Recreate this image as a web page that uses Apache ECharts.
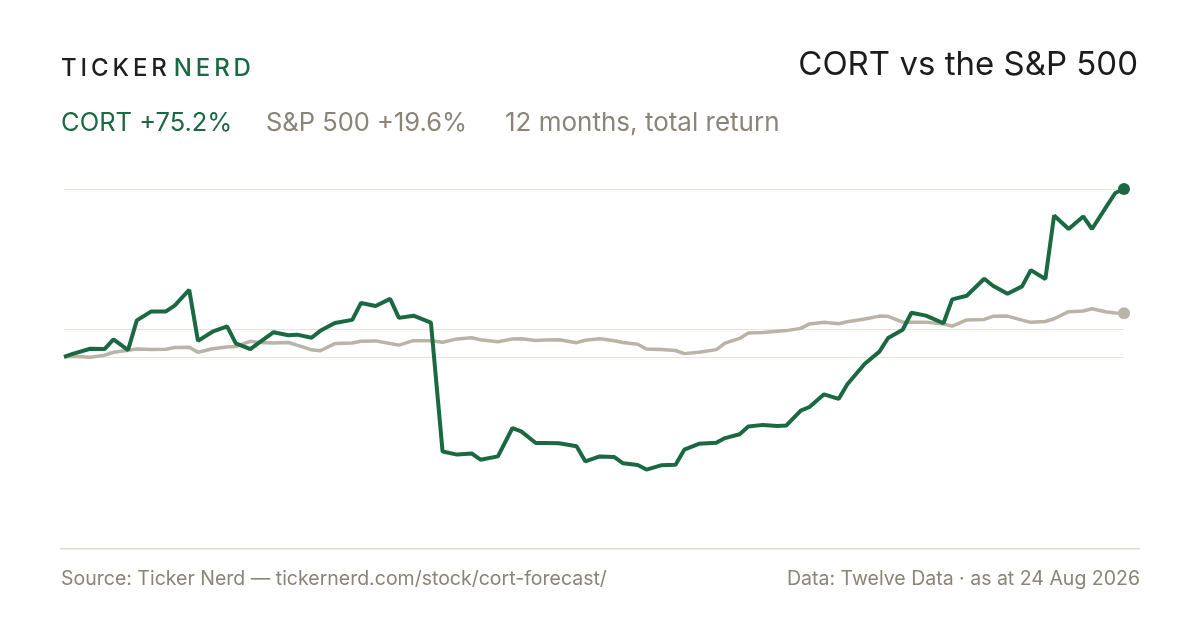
<!DOCTYPE html>
<html>
  <head>
    <meta charset="UTF-8">
    <title>CORT vs the S&amp;P 500</title>
    <script src="https://cdn.jsdelivr.net/npm/echarts@6/dist/echarts.min.js"></script>
    <style>
      html, body { margin: 0; padding: 0; background: #fff; }
    </style>
  </head>
  <body>
    <div id="box" style="width:1200px;height:630px"></div>
    <script>
        // sample dates (every third trading day, last one is the "as at" date)
        var dates = [
            '2025-08-25', '2025-08-28', '2025-09-03', '2025-09-08', '2025-09-11', '2025-09-16', '2025-09-19', '2025-09-24', '2025-09-29', '2025-10-02',
            '2025-10-07', '2025-10-10', '2025-10-15', '2025-10-20', '2025-10-23', '2025-10-28', '2025-10-31', '2025-11-05', '2025-11-10', '2025-11-13',
            '2025-11-18', '2025-11-21', '2025-11-26', '2025-12-02', '2025-12-05', '2025-12-10', '2025-12-15', '2025-12-18', '2025-12-23', '2025-12-29',
            '2026-01-02', '2026-01-07', '2026-01-12', '2026-01-15', '2026-01-21', '2026-01-26', '2026-01-29', '2026-02-03', '2026-02-06', '2026-02-11',
            '2026-02-17', '2026-02-20', '2026-02-25', '2026-03-02', '2026-03-05', '2026-03-10', '2026-03-13', '2026-03-18', '2026-03-23', '2026-03-26',
            '2026-03-31', '2026-04-06', '2026-04-09', '2026-04-14', '2026-04-17', '2026-04-22', '2026-04-27', '2026-04-30', '2026-05-05', '2026-05-08',
            '2026-05-13', '2026-05-18', '2026-05-21', '2026-05-27', '2026-06-01', '2026-06-04', '2026-06-09', '2026-06-12', '2026-06-17', '2026-06-23',
            '2026-06-26', '2026-07-01', '2026-07-07', '2026-07-10', '2026-07-15', '2026-07-20', '2026-07-23', '2026-07-28', '2026-07-31', '2026-08-05',
            '2026-08-10', '2026-08-13', '2026-08-18', '2026-08-21', '2026-08-24'
        ];
        // total return since start, %
        var cort = [
            0.0, 1.4, 3.7, 3.6, 7.9, 3.1, 16.4, 20.4, 20.4, 23.0,
            30.1, 7.2, 11.3, 13.7, 6.1, 3.5, 6.4, 11.1, 9.7, 10.0,
            8.6, 11.7, 15.2, 16.6, 24.2, 22.8, 26.0, 17.5, 18.5, 15.4,
            -42.3, -43.7, -43.2, -46.0, -44.5, -31.8, -33.3, -38.5, -38.5, -38.6,
            -40.0, -46.7, -44.5, -44.8, -47.6, -48.4, -50.4, -48.5, -48.2, -41.5,
            -38.9, -38.4, -36.3, -34.6, -31.1, -30.4, -30.9, -30.7, -24.0, -22.4,
            -16.7, -18.8, -12.2, -3.0, 2.4, 8.5, 12.2, 19.8, 18.5, 15.1,
            25.8, 27.4, 35.0, 31.9, 28.3, 31.6, 38.9, 34.9, 63.3, 57.3,
            62.9, 57.3, 67.4, 73.4, 75.2
        ];
        var spx = [
            0.0, 0.3, -0.1, 0.8, 2.1, 3.0, 3.6, 3.3, 3.5, 4.2,
            4.4, 2.1, 3.7, 4.5, 4.7, 7.0, 6.5, 6.3, 6.5, 5.3,
            3.2, 2.8, 6.0, 6.3, 7.0, 7.2, 6.0, 5.3, 7.3, 7.3,
            6.6, 8.1, 8.6, 7.7, 6.8, 8.1, 8.2, 7.4, 7.6, 7.7,
            6.4, 7.5, 8.2, 7.3, 6.5, 5.7, 3.6, 3.4, 2.9, 1.5,
            2.1, 3.3, 6.2, 8.3, 10.7, 11.0, 11.5, 11.8, 12.8, 14.8,
            15.5, 14.9, 15.8, 17.0, 18.3, 18.2, 15.6, 15.5, 15.6, 14.8,
            13.8, 16.6, 16.8, 18.2, 18.3, 16.5, 15.5, 15.9, 17.1, 20.3,
            20.6, 21.6, 20.1, 19.7, 19.6
        ];
        var gridLevels = [75.2, 12.4, 0];   // top, middle, zero

        var GREEN = '#1a6943';
        var SAND = '#bab3a8';
        var MUTED = '#8b8478';
        var FONT = 'Inter, "Noto Sans", sans-serif';

        function pairs(vals) {
            return vals.map(function (v, i) { return [dates[i], v]; });
        }
        var last = dates.length - 1;
        function endDot(v, p) { return p.dataIndex === last ? 12 : 0; }

        // logo with letter spacing, one text per letter
        var ctx = document.createElement('canvas').getContext('2d');
        var logoFont = '500 24px ' + FONT;
        ctx.font = logoFont;
        var logo = [];
        var lx = 61;
        [['TICKER', '#1f1f1f'], ['NERD', GREEN]].forEach(function (part, k) {
            if (k) lx += 3;
            part[0].split('').forEach(function (ch) {
                logo.push({
                    type: 'text', left: lx, top: 57,
                    style: {text: ch, font: logoFont, fill: part[1]}
                });
                lx += ctx.measureText(ch).width + 3.9;
            });
        });

        var myChart = echarts.init(document.getElementById('box'));
        myChart.setOption({
            animation: false,
            grid: {left: 64, right: 76, top: 189, height: 302},
            xAxis: {
                type: 'time',
                min: dates[0], max: dates[last],
                show: false
            },
            yAxis: {
                type: 'value', min: -60, max: 75.2,
                show: false, splitLine: {show: false}
            },
            series: [{
                name: 'S&P 500',
                type: 'line',
                data: pairs(spx),
                showSymbol: true, showAllSymbol: true,
                symbol: 'circle', symbolSize: endDot,
                itemStyle: {color: SAND},
                lineStyle: {color: SAND, width: 3.5},
                z: 2,
                markLine: {
                    silent: true, symbol: 'none', label: {show: false},
                    lineStyle: {color: '#e8e4dc', width: 1, type: 'solid'},
                    data: gridLevels.map(function (v) { return {yAxis: v}; }),
                    z: 1
                }
            }, {
                name: 'CORT',
                type: 'line',
                data: pairs(cort),
                showSymbol: true, showAllSymbol: true,
                symbol: 'circle', symbolSize: endDot,
                itemStyle: {color: GREEN},
                lineStyle: {color: GREEN, width: 4},
                z: 3
            }],
            graphic: logo.concat([{
                type: 'text', right: 62, top: 49,
                style: {text: 'CORT vs the S&P 500', font: '33px ' + FONT, fill: '#1c1c1c'}
            }, {
                type: 'text', left: 61, top: 110,
                style: {text: 'CORT +75.2%', font: '25.5px ' + FONT, fill: GREEN}
            }, {
                type: 'text', left: 266, top: 110,
                style: {text: 'S&P 500 +19.6%', font: '25.5px ' + FONT, fill: MUTED}
            }, {
                type: 'text', left: 505, top: 110,
                style: {text: '12 months, total return', font: '26px ' + FONT, fill: MUTED}
            }, {
                type: 'rect', shape: {x: 60, y: 548, width: 1080, height: 1.5},
                style: {fill: '#dedad1'}
            }, {
                type: 'text', left: 61, top: 569,
                style: {text: 'Source: Ticker Nerd \u2014 tickernerd.com/stock/cort-forecast/', font: '19.5px ' + FONT, fill: MUTED}
            }, {
                type: 'text', right: 60, top: 569,
                style: {text: 'Data: Twelve Data \u00b7 as at 24 Aug 2026', font: '19.5px ' + FONT, fill: MUTED}
            }])
        });
    </script>
  </body>
</html>
